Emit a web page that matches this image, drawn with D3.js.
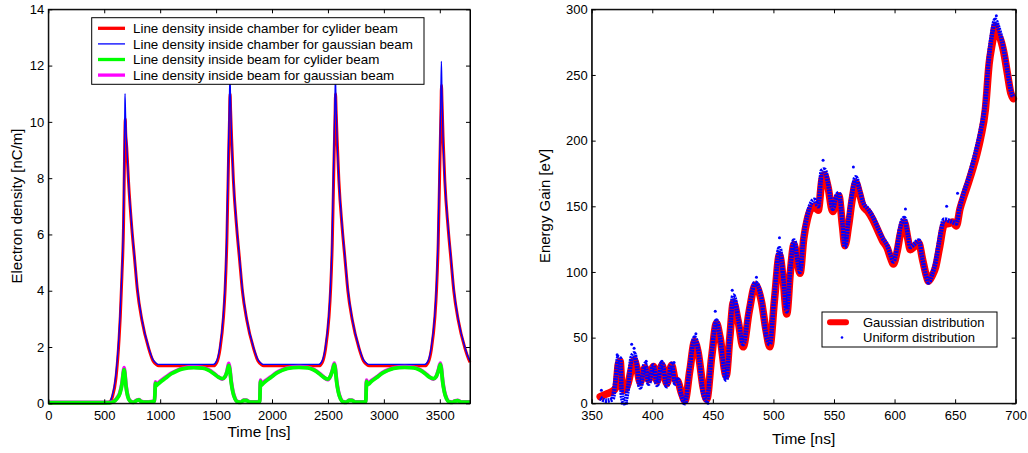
<!DOCTYPE html>
<html>
<head>
<meta charset="utf-8">
<script src="https://cdn.jsdelivr.net/npm/d3@7"></script>
<style>
  body { margin: 0; background: #fff; }
  #stage svg { display: block; }
  text { font-family: "Liberation Sans", Arial, Helvetica, sans-serif; fill: #000; }
</style>
</head>
<body>
<div id="stage"></div>
<script>
// ---- left plot data : line density [nC/m] vs time [ns] ----
var leftXTicks = [0, 500, 1000, 1500, 2000, 2500, 3000, 3500];
var leftYTicks = [0, 2, 4, 6, 8, 10, 12, 14];

var leftLegendNames = [
  "Line density inside chamber for cylider beam",
  "Line density inside chamber for gaussian beam",
  "Line density inside beam for cylider beam",
  "Line density inside beam for gaussian beam"
];

// inside chamber, cylinder beam (red)
var chamberCylider = [[0,0.01],[500,0.01],[545,0.04],[575,0.25],[605,0.9],[633,2.3],[644,3.1],[658,4.5],[673,6.4],[681,8.6],[685,9.6],[688,10.1],[692,9.6],[701,9.1],[717,7.9],[747,6.2],[772,5.1],[797,4.0],[837,2.95],[897,1.95],[937,1.5],[967,1.37],[987,1.33],[1200,1.33],[1476,1.33],[1506,1.45],[1536,1.95],[1566,3.05],[1581,4.05],[1596,5.7],[1611,8.6],[1620,10.1],[1625,11.0],[1630,10.4],[1639,9.4],[1655,7.9],[1685,6.2],[1710,5.1],[1735,4.0],[1775,2.95],[1835,1.95],[1875,1.5],[1905,1.37],[1925,1.33],[2150,1.33],[2419,1.33],[2449,1.45],[2479,1.95],[2509,3.05],[2524,4.05],[2539,5.7],[2554,8.6],[2563,10.1],[2568,11.0],[2573,10.4],[2582,9.4],[2598,7.9],[2628,6.2],[2653,5.1],[2678,4.0],[2718,2.95],[2778,1.95],[2818,1.5],[2848,1.37],[2868,1.33],[3100,1.33],[3366,1.33],[3396,1.45],[3426,1.95],[3456,3.05],[3471,4.05],[3486,5.7],[3501,8.6],[3510,10.3],[3515,11.3],[3520,10.7],[3529,9.5],[3545,7.9],[3575,6.2],[3600,5.1],[3625,4.0],[3665,2.95],[3725,1.95],[3765,1.5],[3770,1.46]];

// inside chamber, gaussian beam (blue)
var chamberGaussian = [[0,0.02],[500,0.02],[540,0.04],[570,0.25],[600,0.9],[630,2.3],[641,3.1],[656,4.5],[671,6.4],[680,9.0],[684,10.4],[686,11.0],[691,10.2],[700,9.3],[716,8.0],[746,6.3],[771,5.2],[796,4.1],[836,3.0],[896,2.0],[936,1.55],[966,1.42],[986,1.38],[1200,1.38],[1474,1.38],[1504,1.5],[1534,2.0],[1564,3.1],[1579,4.1],[1594,5.8],[1609,8.8],[1618,10.5],[1624,11.7],[1629,10.9],[1638,9.5],[1654,8.0],[1684,6.3],[1709,5.2],[1734,4.1],[1774,3.0],[1834,2.0],[1874,1.55],[1904,1.42],[1924,1.38],[2150,1.38],[2417,1.38],[2447,1.5],[2477,2.0],[2507,3.1],[2522,4.1],[2537,5.8],[2552,8.8],[2561,10.5],[2567,11.6],[2572,10.8],[2581,9.5],[2597,8.0],[2627,6.3],[2652,5.2],[2677,4.1],[2717,3.0],[2777,2.0],[2817,1.55],[2847,1.42],[2867,1.38],[3100,1.38],[3364,1.38],[3394,1.5],[3424,2.0],[3454,3.1],[3469,4.1],[3484,5.8],[3499,8.8],[3508,10.6],[3514,12.15],[3519,11.2],[3528,9.6],[3544,8.0],[3574,6.3],[3599,5.2],[3624,4.1],[3664,3.0],[3724,2.0],[3764,1.55],[3770,1.5]];

// inside beam, cylinder beam (green)
var beamCylider = [[0,0.02],[550,0.02],[580,0.05],[610,0.15],[640,0.35],[660,0.7],[672,1.1],[678,1.2],[684,1.05],[695,0.6],[710,0.25],[730,0.08],[760,0.03],[790,0.1],[810,0.12],[830,0.06],[870,0.04],[920,0.05],[950,0.08],[958,0.72],[965,0.62],[975,0.66],[1000,0.75],[1050,0.9],[1100,1.05],[1150,1.15],[1200,1.22],[1300,1.27],[1380,1.25],[1430,1.18],[1480,1.05],[1520,0.93],[1555,0.88],[1580,0.95],[1600,1.15],[1613,1.35],[1622,1.2],[1635,0.75],[1650,0.4],[1670,0.15],[1690,0.05],[1720,0.03],[1745,0.1],[1770,0.1],[1800,0.04],[1850,0.04],[1890,0.06],[1897,0.78],[1905,0.64],[1915,0.68],[1940,0.77],[1990,0.92],[2040,1.07],[2090,1.17],[2140,1.24],[2240,1.28],[2320,1.26],[2370,1.19],[2420,1.06],[2460,0.93],[2495,0.86],[2520,0.95],[2540,1.15],[2557,1.38],[2566,1.2],[2578,0.75],[2593,0.4],[2613,0.15],[2633,0.05],[2663,0.03],[2688,0.1],[2713,0.1],[2743,0.04],[2800,0.04],[2838,0.06],[2845,0.78],[2852,0.65],[2862,0.68],[2887,0.77],[2937,0.92],[2987,1.07],[3037,1.17],[3087,1.24],[3187,1.28],[3267,1.26],[3317,1.19],[3367,1.06],[3407,0.93],[3442,0.88],[3467,0.95],[3487,1.15],[3505,1.38],[3514,1.2],[3526,0.75],[3541,0.4],[3561,0.15],[3581,0.05],[3611,0.03],[3636,0.08],[3660,0.09],[3690,0.04],[3770,0.04]];

// inside beam, gaussian beam (magenta)
var beamGaussian = [[0,0.03],[550,0.03],[580,0.06],[610,0.17],[640,0.38],[660,0.75],[672,1.15],[678,1.27],[684,1.1],[695,0.63],[710,0.27],[730,0.09],[760,0.04],[790,0.11],[810,0.13],[830,0.07],[870,0.05],[920,0.06],[950,0.09],[958,0.76],[965,0.66],[975,0.7],[1000,0.78],[1050,0.93],[1100,1.07],[1150,1.17],[1200,1.24],[1300,1.29],[1380,1.27],[1430,1.2],[1480,1.07],[1520,0.94],[1555,0.86],[1580,0.94],[1600,1.18],[1613,1.42],[1622,1.26],[1635,0.8],[1650,0.43],[1670,0.17],[1690,0.06],[1720,0.04],[1745,0.11],[1770,0.11],[1800,0.05],[1850,0.05],[1890,0.07],[1897,0.82],[1905,0.68],[1915,0.71],[1940,0.8],[1990,0.94],[2040,1.09],[2090,1.19],[2140,1.26],[2240,1.3],[2320,1.28],[2370,1.21],[2420,1.08],[2460,0.94],[2495,0.84],[2520,0.94],[2540,1.18],[2557,1.43],[2566,1.26],[2578,0.8],[2593,0.43],[2613,0.17],[2633,0.06],[2663,0.04],[2688,0.11],[2713,0.11],[2743,0.05],[2800,0.05],[2838,0.07],[2845,0.82],[2852,0.69],[2862,0.72],[2887,0.8],[2937,0.94],[2987,1.09],[3037,1.19],[3087,1.26],[3187,1.3],[3267,1.28],[3317,1.21],[3367,1.08],[3407,0.94],[3442,0.86],[3467,0.94],[3487,1.18],[3505,1.43],[3514,1.26],[3526,0.8],[3541,0.43],[3561,0.17],[3581,0.06],[3611,0.04],[3636,0.09],[3660,0.1],[3690,0.05],[3770,0.05]];

// ---- right plot data : energy gain [eV] vs time [ns] ----
var rightXTicks = [350, 400, 450, 500, 550, 600, 650, 700];
var rightYTicks = [0, 50, 100, 150, 200, 250, 300];
var rightLegendNames = ["Gaussian distribution", "Uniform distribution"];

var gaussianGain = [[357,5],[362,7],[367,9],[370,12],[372,30],[373.5,32],[375,12],[377,10],[380,15],[383,27],[385,33],[387,28],[390,16],[394,27],[397,18],[401,28],[404,17],[408,29],[412,15],[416,29],[419,18],[421,17],[424,8],[427,2],[431,25],[435,47],[438,38],[442,12],[445,3],[449,35],[453,61],[456,50],[461,21],[464,50],[467,77],[471,62],[475,43],[480,70],[485,90],[490,78],[494,55],[497,43],[501,80],[505,113],[508,95],[511,68],[514,100],[517,121],[520,106],[522,99],[525,125],[528,140],[531,148],[534,150],[537,147],[540,170],[542,174],[545,165],[549,146],[552,155],[554,158],[557,135],[559,120],[562,135],[565,155],[568,168],[571,160],[574,150],[578,146],[582,140],[586,132],[590,124],[594,118],[597,110],[599,106],[602,115],[605,130],[608,138],[611,125],[613,117],[616,119],[620,122],[623,110],[626,98],[628,93],[631,97],[634,104],[637,118],[641,136],[645,137],[648,138],[651,135],[654,148],[657,157],[661,168],[665,180],[668,190],[671,202],[675,224],[678,258],[681,276],[683,287],[685,280],[687,278],[690,268],[693,252],[696,236],[698,232]];

var uniformGain = [[357,4],[362,2],[367,3],[370,20],[372,35],[373.5,34],[375,5],[377,0],[380,12],[383,35],[385,38],[387,30],[390,12],[394,30],[397,15],[401,29],[404,14],[408,31],[412,13],[416,30],[419,15],[421,18],[424,6],[427,0],[431,28],[435,50],[438,40],[442,8],[445,2],[449,38],[453,63],[456,50],[461,18],[464,52],[467,82],[471,64],[475,45],[480,72],[485,92],[490,80],[494,52],[497,45],[501,84],[505,118],[508,97],[511,70],[514,103],[517,124],[520,108],[522,100],[525,128],[528,143],[531,152],[534,155],[537,150],[540,177],[542,178],[545,168],[549,148],[552,158],[554,160],[557,137],[559,119],[562,140],[565,160],[568,172],[571,163],[574,153],[578,148],[582,142],[586,134],[590,126],[594,120],[597,112],[599,108],[602,118],[605,135],[608,141],[611,128],[613,119],[616,121],[620,124],[623,110],[626,97],[628,92],[631,98],[634,108],[637,124],[641,140],[645,139],[648,138],[651,137],[654,150],[657,160],[661,171],[665,184],[668,195],[671,207],[675,230],[678,264],[681,284],[683,292],[685,288],[687,282],[690,270],[693,254],[696,238],[698,233]];

// stray points of the uniform run that stick out of the band
var uniformStray = [[358,10],[371,37],[383,45],[385,42],[395,32],[408,32],[418,31],[436,53],[452,70],[466,86],[486,96],[505,126],[541,185],[566,180],[609,148],[643,150],[652,160],[684,295],[375,0],[379,0],[426,0],[446,0]];

var stage_width = 1028;
var stage_height = 453;

document.onload = init_page();
function init_page() {
  var svg = d3.select("#stage")
    .append("svg")
    .attr("width", stage_width)
    .attr("height", stage_height);
  build_left(svg);
  build_right(svg);
}

// draw box-style axes with inward ticks on all four sides
function draw_box(g, x, y, xticks, yticks) {
  var x0 = x.range()[0], x1 = x.range()[1];
  var y0 = y.range()[0], y1 = y.range()[1];

  g.append("g")
    .attr("transform", "translate(0," + y0 + ")")
    .call(d3.axisBottom(x).tickValues(xticks).tickSizeInner(-4).tickSizeOuter(0).tickPadding(7).tickFormat(d3.format("d")));
  g.append("g")
    .attr("transform", "translate(0," + y1 + ")")
    .call(d3.axisTop(x).tickValues(xticks).tickSizeInner(-4).tickSizeOuter(0).tickFormat(""));
  g.append("g")
    .attr("transform", "translate(" + x0 + ",0)")
    .call(d3.axisLeft(y).tickValues(yticks).tickSizeInner(-4).tickSizeOuter(0).tickPadding(4).tickFormat(d3.format("d")));
  g.append("g")
    .attr("transform", "translate(" + x1 + ",0)")
    .call(d3.axisRight(y).tickValues(yticks).tickSizeInner(-4).tickSizeOuter(0).tickFormat(""));

  g.selectAll(".tick text").style("font-size", "13px").attr("fill", "#000");
  g.selectAll(".tick line").attr("stroke", "#000");
  g.selectAll(".domain").attr("stroke", "#000");

  g.append("rect")
    .attr("x", x0).attr("y", y1)
    .attr("width", x1 - x0).attr("height", y0 - y1)
    .attr("fill", "none").attr("stroke", "#000").attr("stroke-width", 1);
}

function build_left(svg) {
  var x = d3.scaleLinear().domain([0, 3770]).range([48.3, 470]);
  var y = d3.scaleLinear().domain([0, 14]).range([403.3, 9.3]);
  var g = svg.append("g");

  var line = d3.line()
    .x(function(d) { return x(d[0]); })
    .y(function(d) { return y(d[1]); })
    .curve(d3.curveMonotoneX);

  var series = [
    { data: chamberCylider, color: "#ff0000", width: 3 },
    { data: chamberGaussian, color: "#0000ff", width: 1.3 },
    { data: beamGaussian, color: "#ff00ff", width: 3.8 },
    { data: beamCylider, color: "#00ff00", width: 3.8 }
  ];
  series.forEach(function(s) {
    g.append("path")
      .datum(s.data)
      .attr("d", line)
      .attr("fill", "none")
      .attr("stroke", s.color)
      .attr("stroke-width", s.width)
      .attr("stroke-linejoin", "round");
  });

  draw_box(g, x, y, leftXTicks, leftYTicks);

  // axis titles
  g.append("text")
    .attr("x", 259).attr("y", 436.5)
    .attr("text-anchor", "middle")
    .style("font-size", "15.5px")
    .text("Time [ns]");
  g.append("text")
    .attr("transform", "translate(22,206) rotate(-90)")
    .attr("text-anchor", "middle")
    .style("font-size", "15px")
    .text("Electron density [nC/m]");

  // legend
  var legendColors = ["#ff0000", "#0000ff", "#00ff00", "#ff00ff"];
  var legendWidths = [3.3, 1.3, 3.3, 3.3];
  var lg = g.append("g");
  lg.append("rect")
    .attr("x", 91.7).attr("y", 17.7)
    .attr("width", 332.3).attr("height", 66.6)
    .attr("fill", "#fff").attr("stroke", "#000").attr("stroke-width", 1);
  leftLegendNames.forEach(function(name, i) {
    var cy = 28.3 + i * 15.6;
    lg.append("line")
      .attr("x1", 98).attr("x2", 125)
      .attr("y1", cy).attr("y2", cy)
      .attr("stroke", legendColors[i])
      .attr("stroke-width", legendWidths[i]);
    lg.append("text")
      .attr("x", 133).attr("y", cy + 4.7)
      .style("font-size", "13.4px")
      .text(name);
  });
}

function build_right(svg) {
  var x = d3.scaleLinear().domain([350, 700]).range([591.7, 1015.7]);
  var y = d3.scaleLinear().domain([0, 300]).range([403.3, 9.3]);
  var g = svg.append("g");

  var line = d3.line()
    .x(function(d) { return x(d[0]); })
    .y(function(d) { return y(d[1]); })
    .curve(d3.curveMonotoneX);

  // gaussian run: thick red line
  g.append("path")
    .datum(gaussianGain)
    .attr("d", line)
    .attr("fill", "none")
    .attr("stroke", "#ff0000")
    .attr("stroke-width", 7.5)
    .attr("stroke-linejoin", "round")
    .attr("stroke-linecap", "round");

  // uniform run: dense blue dots
  g.append("path")
    .datum(uniformGain)
    .attr("d", line)
    .attr("fill", "none")
    .attr("stroke", "#0000ff")
    .attr("stroke-width", 4.6)
    .attr("stroke-dasharray", "2,0.7");

  g.selectAll("circle.stray")
    .data(uniformStray)
    .enter()
    .append("circle")
    .attr("class", "stray")
    .attr("cx", function(d) { return x(d[0]); })
    .attr("cy", function(d) { return y(d[1]); })
    .attr("r", 1.5)
    .attr("fill", "#0000ff");

  draw_box(g, x, y, rightXTicks, rightYTicks);

  g.append("text")
    .attr("x", 803.7).attr("y", 443.5)
    .attr("text-anchor", "middle")
    .style("font-size", "15.5px")
    .text("Time [ns]");
  g.append("text")
    .attr("transform", "translate(550,206) rotate(-90)")
    .attr("text-anchor", "middle")
    .style("font-size", "15px")
    .text("Energy Gain [eV]");

  // legend
  var lg = g.append("g");
  lg.append("rect")
    .attr("x", 822).attr("y", 312)
    .attr("width", 175).attr("height", 35)
    .attr("fill", "#fff").attr("stroke", "#000").attr("stroke-width", 1);
  lg.append("line")
    .attr("x1", 830).attr("x2", 846)
    .attr("y1", 322.3).attr("y2", 322.3)
    .attr("stroke", "#ff0000").attr("stroke-width", 6)
    .attr("stroke-linecap", "round");
  lg.append("circle")
    .attr("cx", 842).attr("cy", 337.5)
    .attr("r", 1.3)
    .attr("fill", "#0000ff");
  rightLegendNames.forEach(function(name, i) {
    lg.append("text")
      .attr("x", 863).attr("y", 322.3 + i * 15 + 4.6)
      .style("font-size", "13px")
      .text(name);
  });
}
</script>
</body>
</html>
